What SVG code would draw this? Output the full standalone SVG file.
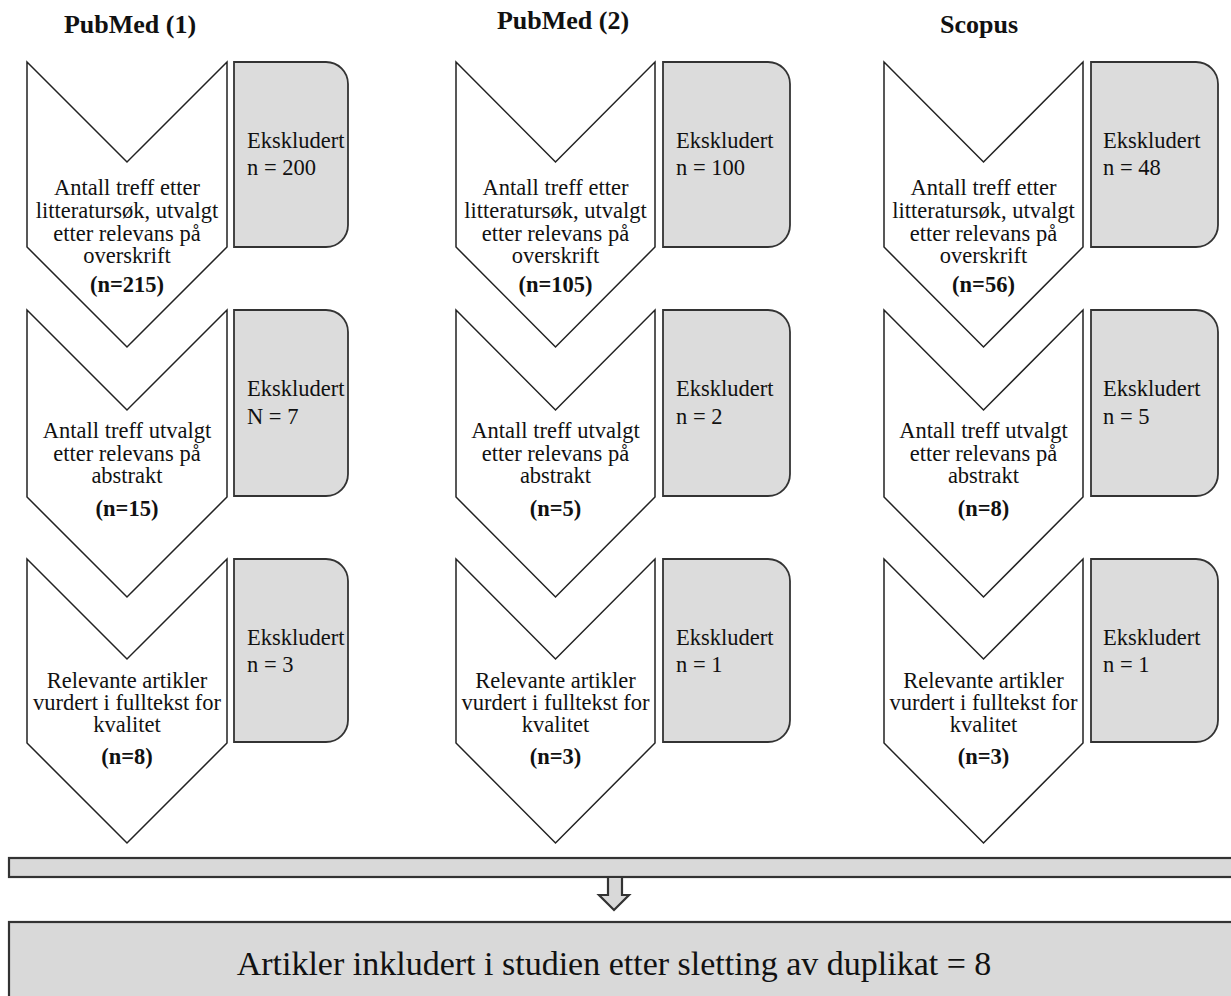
<svg xmlns="http://www.w3.org/2000/svg" width="1231" height="996" viewBox="0 0 1231 996">
<style>
.chev{fill:#ffffff;stroke:#222;stroke-width:1.5;stroke-linejoin:miter}
.box{fill:#dcdcdc;stroke:#333;stroke-width:1.8}
.bar{fill:#d9d9d9;stroke:#333;stroke-width:2.2}
text{font-family:'Liberation Serif',serif;fill:#111}
.t{font-size:22.5px}
.c{text-anchor:middle}
.b{font-weight:bold}
.title{font-size:26px;font-weight:bold;text-anchor:middle}
.big{font-size:34px;text-anchor:middle}
</style>
<rect width="1231" height="996" fill="#ffffff"/>

<g id="titles">
<text class="title" x="130" y="33">PubMed (1)</text>
<text class="title" x="563" y="29">PubMed (2)</text>
<text class="title" x="979" y="33">Scopus</text>
</g>

<!-- Column 1 -->
<g id="c1s1">
<path class="chev" d="M27,62 L127,162 L227,62 L227,247 L127,347 L27,247 Z"/>
<text class="t c" x="127" y="195">Antall treff etter</text>
<text class="t c" x="127" y="218">litteratursøk, utvalgt</text>
<text class="t c" x="127" y="241">etter relevans på</text>
<text class="t c" x="127" y="263">overskrift</text>
<text class="t c b" x="127" y="292">(n=215)</text>
</g>
<g id="c1e1">
<path class="box" d="M234,62 H326 A22,22 0 0 1 348,84 V225 A22,22 0 0 1 326,247 H234 Z"/>
<text class="t" x="247" y="148">Ekskludert</text>
<text class="t" x="247" y="175">n = 200</text>
</g>
<g id="c1s2">
<path class="chev" d="M27,310 L127,410 L227,310 L227,497 L127,597 L27,497 Z"/>
<text class="t c" x="127" y="438">Antall treff utvalgt</text>
<text class="t c" x="127" y="461">etter relevans på</text>
<text class="t c" x="127" y="483">abstrakt</text>
<text class="t c b" x="127" y="516">(n=15)</text>
</g>
<g id="c1e2">
<path class="box" d="M234,310 H326 A22,22 0 0 1 348,332 V474 A22,22 0 0 1 326,496 H234 Z"/>
<text class="t" x="247" y="396">Ekskludert</text>
<text class="t" x="247" y="424">N = 7</text>
</g>
<g id="c1s3">
<path class="chev" d="M27,559 L127,659 L227,559 L227,743 L127,843 L27,743 Z"/>
<text class="t c" x="127" y="688">Relevante artikler</text>
<text class="t c" x="127" y="710">vurdert i fulltekst for</text>
<text class="t c" x="127" y="732">kvalitet</text>
<text class="t c b" x="127" y="764">(n=8)</text>
</g>
<g id="c1e3">
<path class="box" d="M234,559 H326 A22,22 0 0 1 348,581 V720 A22,22 0 0 1 326,742 H234 Z"/>
<text class="t" x="247" y="645">Ekskludert</text>
<text class="t" x="247" y="672">n = 3</text>
</g>

<!-- Column 2 -->
<g id="c2s1">
<path class="chev" d="M456,62 L555.5,162 L655,62 L655,247 L555.5,347 L456,247 Z"/>
<text class="t c" x="555.5" y="195">Antall treff etter</text>
<text class="t c" x="555.5" y="218">litteratursøk, utvalgt</text>
<text class="t c" x="555.5" y="241">etter relevans på</text>
<text class="t c" x="555.5" y="263">overskrift</text>
<text class="t c b" x="555.5" y="292">(n=105)</text>
</g>
<g id="c2e1">
<path class="box" d="M663,62 H768 A22,22 0 0 1 790,84 V225 A22,22 0 0 1 768,247 H663 Z"/>
<text class="t" x="676" y="148">Ekskludert</text>
<text class="t" x="676" y="175">n = 100</text>
</g>
<g id="c2s2">
<path class="chev" d="M456,310 L555.5,410 L655,310 L655,497 L555.5,597 L456,497 Z"/>
<text class="t c" x="555.5" y="438">Antall treff utvalgt</text>
<text class="t c" x="555.5" y="461">etter relevans på</text>
<text class="t c" x="555.5" y="483">abstrakt</text>
<text class="t c b" x="555.5" y="516">(n=5)</text>
</g>
<g id="c2e2">
<path class="box" d="M663,310 H768 A22,22 0 0 1 790,332 V474 A22,22 0 0 1 768,496 H663 Z"/>
<text class="t" x="676" y="396">Ekskludert</text>
<text class="t" x="676" y="424">n = 2</text>
</g>
<g id="c2s3">
<path class="chev" d="M456,559 L555.5,659 L655,559 L655,743 L555.5,843 L456,743 Z"/>
<text class="t c" x="555.5" y="688">Relevante artikler</text>
<text class="t c" x="555.5" y="710">vurdert i fulltekst for</text>
<text class="t c" x="555.5" y="732">kvalitet</text>
<text class="t c b" x="555.5" y="764">(n=3)</text>
</g>
<g id="c2e3">
<path class="box" d="M663,559 H768 A22,22 0 0 1 790,581 V720 A22,22 0 0 1 768,742 H663 Z"/>
<text class="t" x="676" y="645">Ekskludert</text>
<text class="t" x="676" y="672">n = 1</text>
</g>

<!-- Column 3 -->
<g id="c3s1">
<path class="chev" d="M884,62 L983.5,162 L1083,62 L1083,247 L983.5,347 L884,247 Z"/>
<text class="t c" x="983.5" y="195">Antall treff etter</text>
<text class="t c" x="983.5" y="218">litteratursøk, utvalgt</text>
<text class="t c" x="983.5" y="241">etter relevans på</text>
<text class="t c" x="983.5" y="263">overskrift</text>
<text class="t c b" x="983.5" y="292">(n=56)</text>
</g>
<g id="c3e1">
<path class="box" d="M1091,62 H1196 A22,22 0 0 1 1218,84 V225 A22,22 0 0 1 1196,247 H1091 Z"/>
<text class="t" x="1103" y="148">Ekskludert</text>
<text class="t" x="1103" y="175">n = 48</text>
</g>
<g id="c3s2">
<path class="chev" d="M884,310 L983.5,410 L1083,310 L1083,497 L983.5,597 L884,497 Z"/>
<text class="t c" x="983.5" y="438">Antall treff utvalgt</text>
<text class="t c" x="983.5" y="461">etter relevans på</text>
<text class="t c" x="983.5" y="483">abstrakt</text>
<text class="t c b" x="983.5" y="516">(n=8)</text>
</g>
<g id="c3e2">
<path class="box" d="M1091,310 H1196 A22,22 0 0 1 1218,332 V474 A22,22 0 0 1 1196,496 H1091 Z"/>
<text class="t" x="1103" y="396">Ekskludert</text>
<text class="t" x="1103" y="424">n = 5</text>
</g>
<g id="c3s3">
<path class="chev" d="M884,559 L983.5,659 L1083,559 L1083,743 L983.5,843 L884,743 Z"/>
<text class="t c" x="983.5" y="688">Relevante artikler</text>
<text class="t c" x="983.5" y="710">vurdert i fulltekst for</text>
<text class="t c" x="983.5" y="732">kvalitet</text>
<text class="t c b" x="983.5" y="764">(n=3)</text>
</g>
<g id="c3e3">
<path class="box" d="M1091,559 H1196 A22,22 0 0 1 1218,581 V720 A22,22 0 0 1 1196,742 H1091 Z"/>
<text class="t" x="1103" y="645">Ekskludert</text>
<text class="t" x="1103" y="672">n = 1</text>
</g>

<!-- Bottom -->
<g id="merge-bar">
<rect class="bar" x="9" y="858" width="1230" height="19"/>
</g>
<g id="connectors">
<path class="bar" stroke-width="1.6" d="M608,877 V895 H599 L614,910 L629,895 H622 V877 Z"/>
</g>
<g id="result">
<rect class="bar" x="9" y="922" width="1230" height="90"/>
<text class="big" x="614" y="975">Artikler inkludert i studien etter sletting av duplikat = 8</text>
</g>
</svg>
